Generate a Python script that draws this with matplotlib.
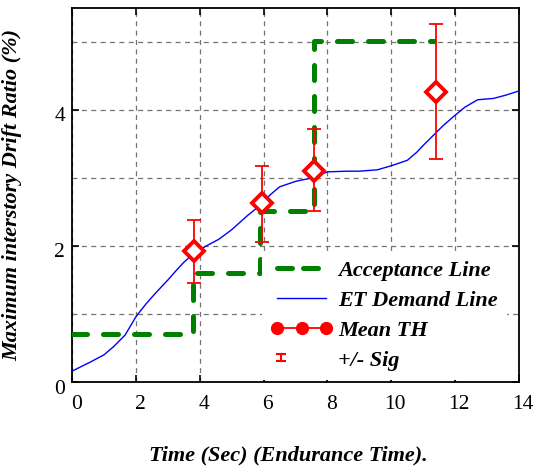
import numpy as np
import matplotlib.pyplot as plt
import matplotlib.transforms as mtransforms
from matplotlib.lines import Line2D

plt.rcParams['font.family'] = ['Liberation Serif', 'DejaVu Serif']

# acceptance (step) line
acc_t = [0.0, 3.78, 3.78, 5.88, 5.88, 7.57, 7.57, 11.35]
acc_v = [0.70, 0.70, 1.60, 1.60, 2.51, 2.51, 5.01, 5.01]

# ET demand curve
et_t = [0.0, 0.3, 0.6, 1.0, 1.3, 1.66, 2.0, 2.3, 2.6, 3.0, 3.3, 3.5, 3.83, 4.2,
        4.6, 5.0, 5.5, 5.95, 6.2, 6.5, 7.0, 7.5, 8.0, 8.6, 9.0, 9.56, 10.0,
        10.5, 10.8, 11.0, 11.3, 11.6, 11.94, 12.3, 12.7, 13.2, 13.6, 14.0]
et_v = [0.16, 0.23, 0.30, 0.40, 0.52, 0.69, 0.96, 1.14, 1.30, 1.50, 1.66, 1.76,
        1.90, 2.00, 2.10, 2.24, 2.45, 2.62, 2.75, 2.87, 2.95, 3.00, 3.09, 3.10,
        3.10, 3.12, 3.18, 3.26, 3.38, 3.48, 3.62, 3.76, 3.90, 4.04, 4.15, 4.17,
        4.22, 4.28]

# mean time-history results with +/- sigma
th_t = [3.83, 5.95, 7.58, 11.4]
th_mean = [1.92, 2.63, 3.10, 4.27]
th_lo = [1.46, 2.06, 2.51, 3.28]
th_hi = [2.38, 3.18, 3.72, 5.26]


class SigHandler:
    # small "I" shaped errorbar icon at the left of the handle box
    def legend_artist(self, legend, orig_handle, fontsize, handlebox):
        x0, y0 = -handlebox.xdescent, -handlebox.ydescent
        h = handlebox.height
        xc = x0 + 7.5
        cap = 2.8
        ylo, yhi = y0 + 0.3 * h, y0 + 0.75 * h
        lines = [([xc, xc], [ylo, yhi]),
                 ([xc - cap, xc + cap], [ylo, ylo]),
                 ([xc - cap, xc + cap], [yhi, yhi])]
        for xs, ys in lines:
            ln = Line2D(xs, ys, color='red', lw=1.5,
                        transform=handlebox.get_transform())
            handlebox.add_artist(ln)
        return ln


fig = plt.figure(figsize=(5.34, 4.69), dpi=100)
ax = fig.add_axes([0.135, 0.1855, 0.837, 0.7975])

ax.plot(et_t, et_v, color='blue', lw=1.0, zorder=3)
ax.plot(acc_t, acc_v, color='green', lw=3.6, dashes=(3.0, 3.2),
        dash_capstyle='round', zorder=4)

err = [np.array(th_mean) - np.array(th_lo), np.array(th_hi) - np.array(th_mean)]
ax.errorbar(th_t, th_mean, yerr=err, fmt='none', ecolor='red', elinewidth=1.3,
            capsize=5, capthick=1.3, zorder=5)
ax.plot(th_t, th_mean, ls='none', marker='D', ms=10, mfc='white', mec='red',
        mew=2.8, zorder=6)

ax.set_xlim(0, 14)
ax.set_ylim(0, 5.5)
ax.set_xticks(np.arange(0, 15, 2))
ax.set_yticks([0, 2, 4])
ax.set_yticks([1, 3, 5], minor=True)
ax.tick_params(which='major', direction='in', top=True, right=True,
               length=5, width=1.2, labelsize=15.5, pad=5)
ax.tick_params(axis='x', pad=9)
ax.tick_params(which='minor', length=0)
ax.grid(True, which='both', color='0.45', ls=(0, (4, 3.5)), lw=0.9)
for s in ax.spines.values():
    s.set_linewidth(1.3)

# tick labels sit a little right / low of their ticks, as in the original
xoff = mtransforms.ScaledTranslation(0.04, 0, fig.dpi_scale_trans)
for lbl in ax.get_xticklabels():
    lbl.set_transform(lbl.get_transform() + xoff)
yoff = mtransforms.ScaledTranslation(0, -0.045, fig.dpi_scale_trans)
for lbl in ax.get_yticklabels():
    lbl.set_transform(lbl.get_transform() + yoff)

ax.set_xlabel('Time (Sec) (Endurance Time).', fontsize=16,
              fontweight='bold', fontstyle='italic')
ax.xaxis.set_label_coords(0.484, -0.17)
ax.set_ylabel('Maximum interstory Drift Ratio (%)', fontsize=16,
              fontweight='bold', fontstyle='italic')
ax.yaxis.set_label_coords(-0.112, 0.5)

h_acc = Line2D([], [], color='green', lw=3.6, dashes=(3.0, 2.2),
               dash_capstyle='round')
h_et = Line2D([], [], color='blue', lw=1.0)
h_th = Line2D([], [], color='red', lw=1.3, marker='o', ms=8.5)
h_sig = object()
leg = ax.legend([h_acc, h_et, h_th, h_sig],
                ['Acceptance Line', 'ET Demand Line', 'Mean TH', '+/- Sig'],
                loc='lower right', bbox_to_anchor=(0.978, 0.0),
                borderaxespad=0.1, numpoints=3,
                handlelength=2.8, handletextpad=0.25, labelspacing=0.43,
                frameon=True, fancybox=False, edgecolor='none',
                facecolor='white', framealpha=1,
                prop={'size': 16, 'weight': 'bold', 'style': 'italic'},
                handler_map={h_sig: SigHandler()})
leg.set_zorder(10)

fig.savefig('out.png', dpi=100)
